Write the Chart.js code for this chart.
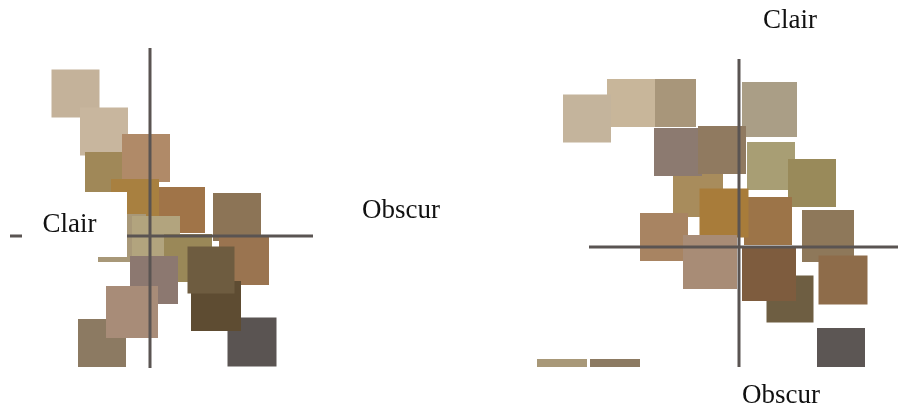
<!DOCTYPE html>
<html>
<head>
<meta charset="utf-8">
<script src="https://cdn.jsdelivr.net/npm/chart.js@4/dist/chart.umd.min.js"></script>
<style>
  html, body { margin: 0; padding: 0; background: #fff; }
  #wrap { position: relative; width: 898px; height: 408px; }
  .pane { position: absolute; top: 0; width: 449px; height: 408px; }
</style>
</head>
<body>
<div id="wrap">
  <div class="pane" style="left:0"><canvas id="left"></canvas></div>
  <div class="pane" style="left:449px"><canvas id="right"></canvas></div>
</div>
<script>
// axis labels
var axisLight = 'Clair';
var axisDark = 'Obscur';

// left map: colour samples (x, y)
var leftX = [-1.49, -0.92, -0.84, -0.08, -0.30, 0.64, 1.74, 1.88, -0.56, 0.12, 0.76, 0.08, -0.96, -0.36, 2.04, 1.32, 1.22];
var leftY = [2.85, 2.09, 1.22, 1.56, 0.66, 0.52, 0.38, -0.48, -0.04, -0.08, -0.44, -0.88, -2.14, -1.52, -2.12, -1.40, -0.68];

// right map: colour samples (x, y)
var rightX = [-1.34, -2.16, -3.04, 0.61, -0.82, -1.22, -0.34, 0.64, 1.46, 1.78, 0.58, -0.30, -1.50, -0.58, 1.02, 0.60, 2.08, 2.04, -3.54, -2.48];
var rightY = [2.88, 2.88, 2.57, 2.75, 1.10, 1.90, 1.94, 1.62, 1.28, 0.22, 0.52, 0.68, 0.20, -0.30, -1.04, -0.54, -0.66, -2.10, -2.74, -2.74];

// styles
var leftColors = ['#c4b29a', '#c8b69e', '#a08858', '#b08a68', '#a88040', '#a07448', '#8c7456', '#9a7450', '#a89878',
  '#b2a47e', '#9a8858', '#8c7870', '#8c7a62', '#a88c78', '#5a5452', '#5e4c32', '#6e5c40'];
var leftSizes = [48, 48, 46, 48, 48, 46, 48, 50, 48, 48, 48, 48, 48, 52, 49, 50, 47];

var rightColors = ['#a8967a', '#c8b69a', '#c4b49c', '#aa9e86', '#a88c5c', '#8c7a70', '#907a60', '#a89e74', '#998a5a',
  '#8e785a', '#9c7448', '#a87c3a', '#a88462', '#a88c76', '#6e5e42', '#7e5c3e', '#8e6c4a', '#5c5654', '#a89878', '#8c7a62'];
var rightSizes = [48, 48, 48, 55, 50, 48, 48, 48, 48, 52, 48, 49, 48, 54, 47, 54, 49, 48, 50, 50];

var lineColor = '#5a5452';

function pts(xs, ys) {
  return xs.map(function (x, i) { return { x: x, y: ys[i] }; });
}

var quadrants = {
  id: 'quadrants',
  afterDatasetsDraw: function (chart, args, opts) {
    var ctx = chart.ctx;
    var a = chart.chartArea;
    var x0 = chart.scales.x.getPixelForValue(0);
    var y0 = chart.scales.y.getPixelForValue(0);
    ctx.save();
    ctx.strokeStyle = lineColor;
    ctx.lineWidth = 3;
    ctx.beginPath();
    ctx.moveTo(x0, a.top);
    ctx.lineTo(x0, a.bottom);
    ctx.moveTo(a.left, y0);
    ctx.lineTo(a.right, y0);
    ctx.stroke();
    if (opts.box) {
      ctx.fillStyle = '#fff';
      ctx.fillRect(opts.box[0], opts.box[1], opts.box[2], opts.box[3]);
    }
    ctx.fillStyle = '#111';
    ctx.font = '27px "Liberation Serif", "Times New Roman", serif';
    ctx.textAlign = 'center';
    ctx.textBaseline = 'alphabetic';
    (opts.labels || []).forEach(function (l) {
      ctx.fillText(l.text, l.x, l.y);
    });
    ctx.restore();
  }
};

function makeChart(id, data, colors, sizes, scales, padding, clip, labels, box) {
  return new Chart(document.getElementById(id), {
    type: 'scatter',
    data: {
      datasets: [{
        data: data,
        pointStyle: 'rect',
        pointRadius: sizes.map(function (s) { return s / Math.SQRT2; }),
        backgroundColor: colors,
        borderWidth: 0,
        clip: clip
      }]
    },
    options: {
      responsive: true,
      maintainAspectRatio: false,
      animation: false,
      events: [],
      layout: { padding: padding, autoPadding: false },
      scales: {
        x: { type: 'linear', display: false, min: scales[0], max: scales[1] },
        y: { type: 'linear', display: false, min: scales[2], max: scales[3] }
      },
      plugins: {
        legend: { display: false },
        tooltip: { enabled: false },
        quadrants: { labels: labels, box: box }
      }
    },
    plugins: [quadrants]
  });
}

makeChart('left', pts(leftX, leftY), leftColors, leftSizes,
  [-2.8, 3.26, -2.64, 3.76],
  { left: 10, top: 48, right: 136, bottom: 40 },
  false,
  [{ text: axisLight, x: 69.5, y: 232 }, { text: axisDark, x: 401, y: 218 }],
  [22, 192, 105, 65]);

makeChart('right', pts(rightX, rightY), rightColors, rightSizes,
  [-3.0, 3.18, -2.4, 3.76],
  { left: 140, top: 59, right: 0, bottom: 41 },
  { left: false, top: false, right: false, bottom: 0 },
  [{ text: axisLight, x: 790, y: 28 }, { text: axisDark, x: 781, y: 403 }].map(function (l) {
    return { text: l.text, x: l.x - 449, y: l.y };
  }),
  null);
</script>
</body>
</html>
